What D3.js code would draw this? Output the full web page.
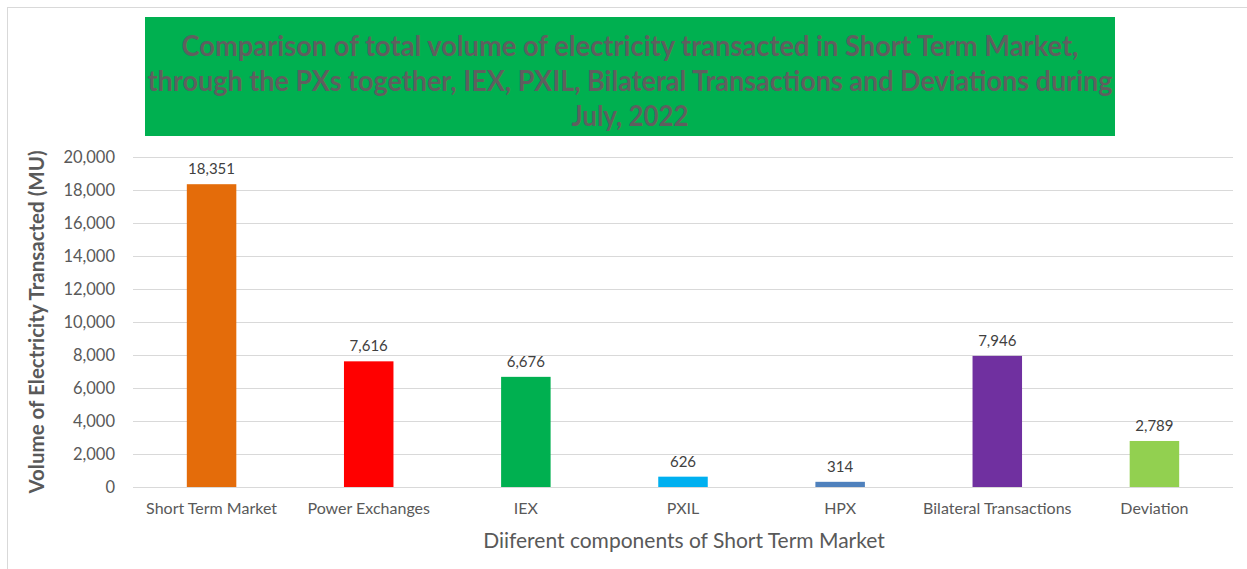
<!DOCTYPE html>
<html><head><meta charset="utf-8">
<script src="https://cdn.jsdelivr.net/npm/d3@7"></script>
<style>body{margin:0;background:#fff}svg{display:block}text{font-family:Lato,"Open Sans",sans-serif}</style>
</head><body><svg id="c" width="1247" height="569"></svg>
<script>
const categories = ["Short Term Market","Power Exchanges","IEX","PXIL","HPX","Bilateral Transactions","Deviation"];
const values = [18351, 7616, 6676, 626, 314, 7946, 2789];
const colors = ["#E46C0A","#FF0000","#00B050","#00B0F0","#4F81BD","#7030A0","#92D050"];
const yTicks = [0,2000,4000,6000,8000,10000,12000,14000,16000,18000,20000];
const titleLines = ["Comparison of total volume of electricity transacted in Short Term Market,","through the PXs together, IEX, PXIL, Bilateral Transactions and Deviations during","July, 2022"];
const xTitle = "Diiferent components of Short Term Market";
const yTitle = "Volume of Electricity Transacted (MU)";

const svg = d3.select("#c");
svg.append("rect").attr("x",7.5).attr("y",7.5).attr("width",1300).attr("height",600).attr("fill","#fff").attr("stroke","#d9d9d9");

const L=133,R=1233,T=157,B=487;
const x = d3.scaleBand().domain(categories).range([L,R]).paddingInner(0.685).paddingOuter(0.3425);
const y = d3.scaleLinear().domain([0,20000]).range([B,T]);
const fmt = d3.format(",");

// gridlines
svg.append("g").selectAll("line").data(yTicks).join("line")
 .attr("x1",L).attr("x2",R).attr("y1",d=>Math.round(y(d))+0.5).attr("y2",d=>Math.round(y(d))+0.5)
 .attr("stroke","#d9d9d9").attr("stroke-width",1);

// y axis labels
const ya = svg.append("g").attr("transform",`translate(${L},0)`)
 .call(d3.axisLeft(y).tickValues(yTicks).tickFormat(fmt).tickSize(0).tickPadding(18));
ya.select(".domain").remove();
ya.selectAll("text").attr("font-family","Lato").attr("font-size",16.5).attr("fill","#595959");

// bars
svg.append("g").selectAll("rect").data(values).join("rect")
 .attr("x",(d,i)=>x(categories[i])).attr("width",x.bandwidth())
 .attr("y",d=>y(d)).attr("height",d=>B-y(d)).attr("fill",(d,i)=>colors[i]);

// data labels
svg.append("g").selectAll("text").data(values).join("text")
 .attr("x",(d,i)=>x(categories[i])+x.bandwidth()/2).attr("y",d=>y(d)-10)
 .attr("text-anchor","middle").attr("font-size",15).attr("fill","#404040").text(d=>fmt(d));

// x axis
const xa = svg.append("g").attr("transform",`translate(0,${B})`)
 .call(d3.axisBottom(x).tickSize(0).tickPadding(16));
xa.select(".domain").attr("stroke","#d9d9d9").attr("d",`M${L},0.5H${R}`);
xa.selectAll("text").attr("font-family","Lato").attr("font-size",16).attr("fill","#595959");

// axis titles
svg.append("text").attr("x",684).attr("y",548).attr("text-anchor","middle")
 .attr("font-size",21).attr("fill","#595959").text(xTitle);
svg.append("text").attr("transform","translate(44,322) rotate(-90)").attr("text-anchor","middle")
 .attr("font-size",20.5).attr("font-weight","bold").attr("fill","#595959").text(yTitle);

// title box
svg.append("rect").attr("x",145).attr("y",17).attr("width",970).attr("height",119).attr("fill","#00B050");
const tl = [{w:897,y:56},{w:965,y:91},{w:117,y:126}];
svg.append("g").selectAll("text").data(titleLines).join("text")
 .attr("x",630).attr("y",(d,i)=>tl[i].y).attr("text-anchor","middle")
 .attr("font-size",29).attr("font-weight","bold").attr("fill","#5f5f5f")
 .attr("textLength",(d,i)=>tl[i].w).attr("lengthAdjust","spacingAndGlyphs").text(d=>d);
</script></body></html>
